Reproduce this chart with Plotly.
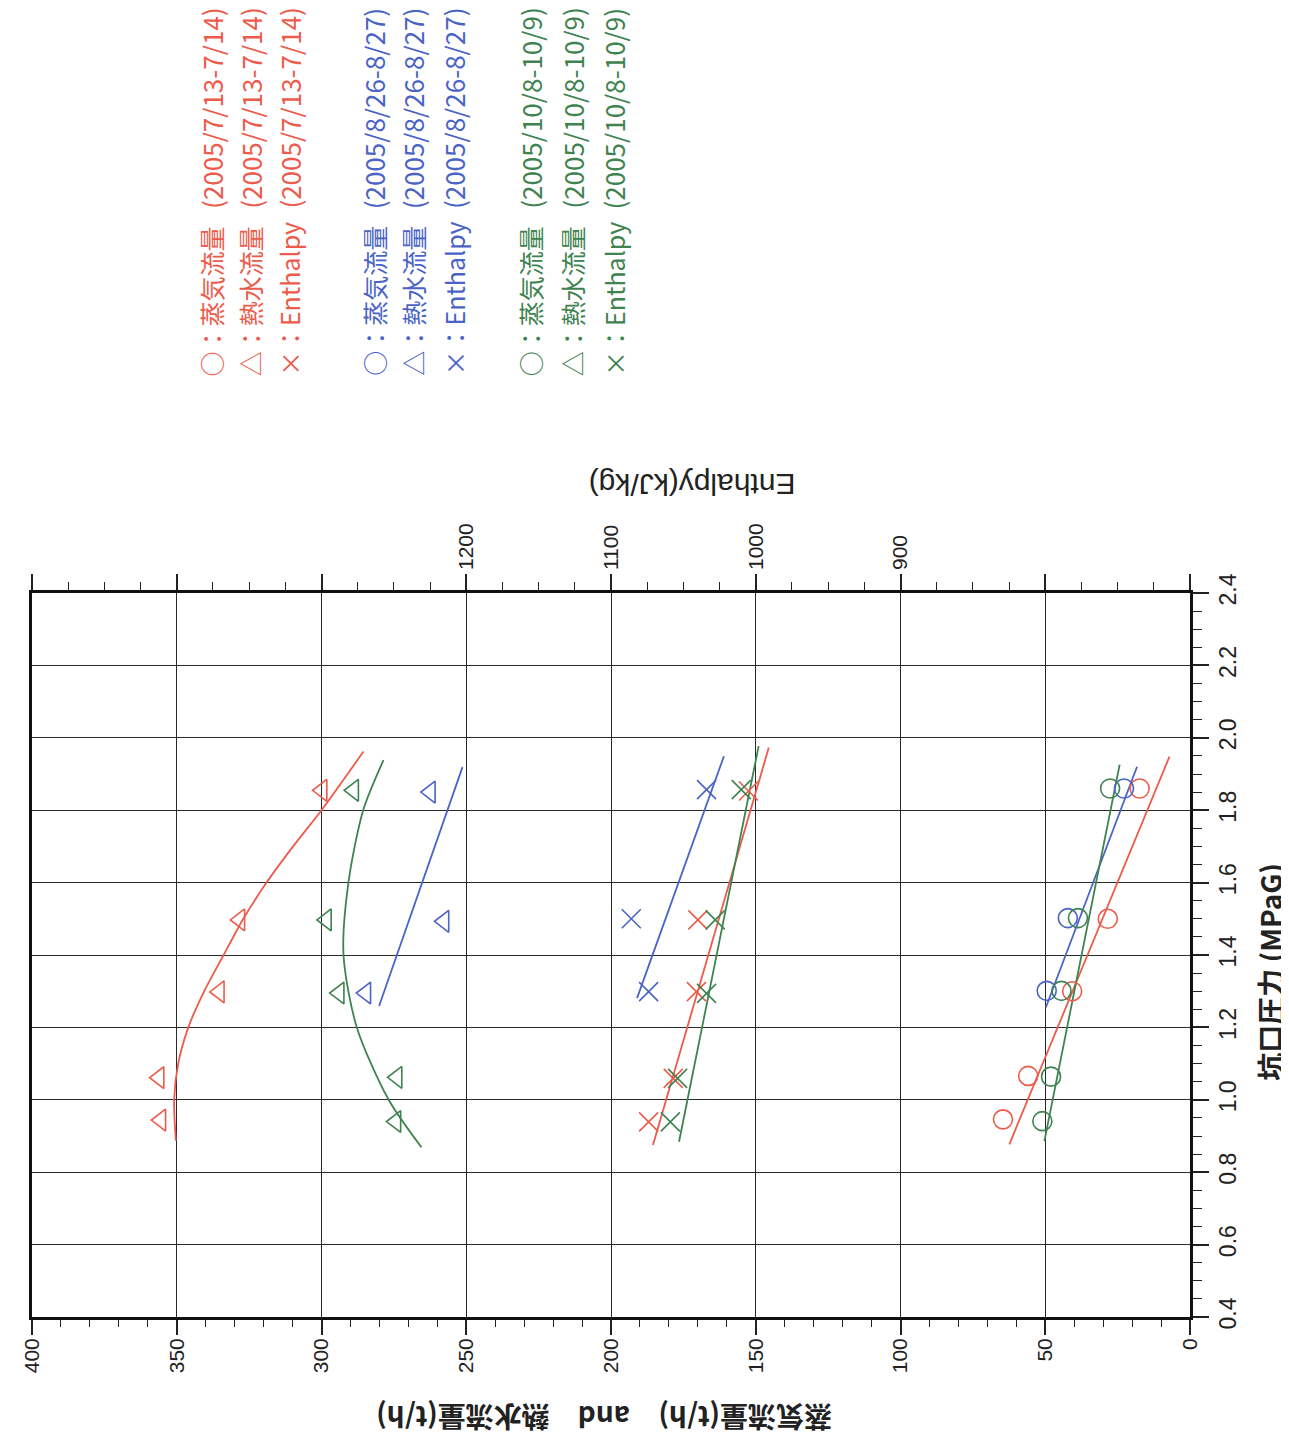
import plotly.graph_objects as go

# ---------------- data ----------------
# pressure (MPaG) of each measured point, and steam flow (t/h)
red_steam_P = [1.86, 1.50, 1.30, 1.066, 0.946]
red_steam_F = [17.4, 28.4, 40.7, 55.9, 64.6]
blue_steam_P = [1.86, 1.502, 1.301]
blue_steam_F = [22.8, 42.2, 49.5]
green_steam_P = [1.86, 1.502, 1.301, 1.064, 0.941]
green_steam_F = [27.6, 38.7, 44.4, 48.0, 51.0]

# hot water flow (t/h)
red_water_P = [1.855, 1.497, 1.298, 1.061, 0.944]
red_water_F = [299.8, 328.2, 335.3, 356.1, 355.5]
blue_water_P = [1.85, 1.493, 1.295]
blue_water_F = [262.4, 257.7, 284.7]
green_water_P = [1.855, 1.497, 1.295, 1.062, 0.94]
green_water_F = [288.9, 298.3, 293.9, 273.9, 274.3]

# enthalpy (kJ/kg)
red_enth_P = [1.853, 1.497, 1.299, 1.059, 0.939]
red_enth_E = [1005, 1040, 1041, 1057, 1074]
blue_enth_P = [1.857, 1.50, 1.299]
blue_enth_E = [1034, 1086, 1074]
green_enth_P = [1.857, 1.497, 1.294, 1.059, 0.939]
green_enth_E = [1010, 1028, 1034, 1054, 1059]

# fitted lines / curves
red_steam_fit_P = [1.948, 0.877]
red_steam_fit_F = [7.1, 62.4]
blue_steam_fit_P = [1.920, 1.255]
blue_steam_fit_F = [18.3, 49.8]
green_steam_fit_P = [1.926, 0.886]
green_steam_fit_F = [24.3, 50.3]

red_water_fit_P = [1.962, 1.8, 1.7, 1.6, 1.5, 1.4, 1.3, 1.2, 1.1, 1.0, 0.887]
red_water_fit_F = [285.5, 300.0, 309.8, 319.0, 327.0, 333.8, 340.5, 346.0, 349.5, 350.9, 350.3]
green_water_fit_P = [1.938, 1.8, 1.6, 1.4, 1.2, 1.0, 0.869]
green_water_fit_F = [278.6, 285.6, 290.7, 292.4, 287.8, 276.8, 265.5]
blue_water_fit_P = [1.919, 1.259]
blue_water_fit_F = [251.3, 280.1]

red_enth_fit_P = [1.973, 0.875]
red_enth_fit_E = [991, 1071]
blue_enth_fit_P = [1.949, 1.281]
blue_enth_fit_E = [1022, 1082]
green_enth_fit_P = [1.977, 0.884]
green_enth_fit_E = [998, 1053]

# axes / tick labels
flow_ticks = [0, 50, 100, 150, 200, 250, 300, 350, 400]
enth_ticks = [700, 800, 900, 1000, 1100, 1200, 1300, 1400, 1500]
enth_ticktext = ["", "", "900", "1000", "1100", "1200", "", "", ""]

legend_groups = [
    ("(2005/7/13-7/14)", "#EC5B4B"),
    ("(2005/8/26-8/27)", "#4A64C6"),
    ("(2005/10/8-10/9)", "#3E8350"),
]
legend_items = ["○：蒸気流量", "△：熱水流量", "×：Enthalpy"]

x_title = "蒸気流量(t/h)　and　熱水流量(t/h)"
x2_title = "Enthalpy(kJ/kg)"
y_title = "坑口圧力 (MPaG)"

RED, BLUE, GREEN = [c for _, c in legend_groups]

# ---------------- figure ----------------
OFF = 8                      # default page (body) margin of the html page
W, H = 1289 - OFF, 1444 - OFF
# plot area, in page pixels
L, R, T, B = 28, 1190, 593, 1317
PW, PH = R - L, B - T


def px(xp, yp):
    """page pixel -> paper coordinates"""
    return (xp - L) / PW, (B - yp) / PH


fig = go.Figure()


def markers(x, y, sym, color, xaxis="x"):
    fig.add_trace(go.Scatter(
        x=x, y=y, mode="markers", xaxis=xaxis, yaxis="y",
        marker=dict(symbol=sym, size=19, color=color, line=dict(color=color, width=1.6)),
        showlegend=False, hoverinfo="skip"))


def line(x, y, color, xaxis="x", spline=False):
    fig.add_trace(go.Scatter(
        x=x, y=y, mode="lines", xaxis=xaxis, yaxis="y",
        line=dict(color=color, width=1.8, shape="spline" if spline else "linear",
                  smoothing=0.8),
        showlegend=False, hoverinfo="skip"))


# steam flow
line(red_steam_fit_F, red_steam_fit_P, RED)
line(blue_steam_fit_F, blue_steam_fit_P, BLUE)
line(green_steam_fit_F, green_steam_fit_P, GREEN)
markers(red_steam_F, red_steam_P, "circle-open", RED)
markers(blue_steam_F, blue_steam_P, "circle-open", BLUE)
markers(green_steam_F, green_steam_P, "circle-open", GREEN)

# hot water flow
line(red_water_fit_F, red_water_fit_P, RED, spline=True)
line(green_water_fit_F, green_water_fit_P, GREEN, spline=True)
line(blue_water_fit_F, blue_water_fit_P, BLUE)
markers(red_water_F, red_water_P, "triangle-left-open", RED)
markers(blue_water_F, blue_water_P, "triangle-left-open", BLUE)
markers(green_water_F, green_water_P, "triangle-left-open", GREEN)

# enthalpy
line(red_enth_fit_E, red_enth_fit_P, RED, xaxis="x2")
line(blue_enth_fit_E, blue_enth_fit_P, BLUE, xaxis="x2")
line(green_enth_fit_E, green_enth_fit_P, GREEN, xaxis="x2")
markers(red_enth_E, red_enth_P, "x-thin-open", RED, xaxis="x2")
markers(blue_enth_E, blue_enth_P, "x-thin-open", BLUE, xaxis="x2")
markers(green_enth_E, green_enth_P, "x-thin-open", GREEN, xaxis="x2")

NUMFONT = "Liberation Sans"
NARROW = "Liberation Sans Narrow, Liberation Sans"
JP = "Noto Sans CJK JP"

fig.update_layout(
    width=W, height=H, autosize=False,
    margin=dict(l=L - OFF, r=(W + OFF) - R, t=T - OFF, b=(H + OFF) - B),
    paper_bgcolor="white", plot_bgcolor="white",
    showlegend=False,
    xaxis=dict(
        range=[400, 0], tickvals=flow_ticks, ticks="outside", ticklen=15,
        tickwidth=1.5, tickcolor="#222", tickangle=-90, ticklabelstandoff=-5,
        tickfont=dict(family=NUMFONT, size=21, color="#222"),
        showgrid=True, gridcolor="#2a2a2a", gridwidth=1.3,
        showline=True, linecolor="#111", linewidth=2.6, mirror=True,
        zeroline=False,
        minor=dict(dtick=10, ticks="outside", ticklen=7, tickcolor="#222",
                   tickwidth=1.2, showgrid=False),
    ),
    xaxis2=dict(
        overlaying="x", side="top", range=[1500, 700],
        tickvals=enth_ticks, ticktext=enth_ticktext,
        ticks="outside", ticklen=16, tickwidth=1.5, tickcolor="#222",
        tickangle=-90, tickfont=dict(family=NUMFONT, size=21, color="#222"),
        showgrid=False, showline=True, linecolor="#111", linewidth=2.6,
        zeroline=False,
        minor=dict(dtick=25, ticks="outside", ticklen=8, tickcolor="#222",
                   tickwidth=1.2, showgrid=False),
    ),
    yaxis=dict(
        side="right", range=[0.4, 2.4], dtick=0.2, tick0=0.4, tickformat=".1f",
        ticks="outside", ticklen=16, tickwidth=1.5, tickcolor="#222",
        tickangle=-90, tickfont=dict(family=NARROW, size=23, color="#222"),
        showgrid=True, gridcolor="#2a2a2a", gridwidth=1.3,
        showline=True, linecolor="#111", linewidth=2.6, mirror=True,
        zeroline=False,
        minor=dict(dtick=0.05, ticks="outside", ticklen=9, tickcolor="#222",
                   tickwidth=1.2, showgrid=False),
    ),
)

ann = []
# axis titles
xx, yy = px(602, 1418)
ann.append(dict(text=x_title, x=xx, y=yy, xref="paper", yref="paper", showarrow=False,
                xanchor="center", yanchor="middle", textangle=180,
                font=dict(family=JP, size=28, color="#222", weight="bold")))
xx, yy = px(690, 485)
ann.append(dict(text=x2_title, x=xx, y=yy, xref="paper", yref="paper", showarrow=False,
                xanchor="center", yanchor="middle", textangle=180,
                font=dict(family=NUMFONT, size=30, color="#222")))
xx, yy = px(1270, 972)
ann.append(dict(text=y_title, x=xx, y=yy, xref="paper", yref="paper", showarrow=False,
                xanchor="center", yanchor="middle", textangle=-90,
                font=dict(family=JP, size=28, color="#222", weight="bold")))

# legend (rotated text columns)
col_x = [[208, 247, 286], [371, 410, 451], [528, 570, 612]]
for gi, (dates, color) in enumerate(legend_groups):
    for ri, item in enumerate(legend_items):
        cx = col_x[gi][ri]
        xx, yy = px(cx, 378)
        ann.append(dict(text=item, x=xx, y=yy, xref="paper", yref="paper",
                        xanchor="center", yanchor="bottom", showarrow=False,
                        textangle=-90, font=dict(family=JP, size=25, color=color)))
        xx, yy = px(cx, 211)
        ann.append(dict(text=dates, x=xx, y=yy, xref="paper", yref="paper",
                        xanchor="center", yanchor="bottom", showarrow=False,
                        textangle=-90, font=dict(family=JP, size=26, color=color)))

fig.update_layout(annotations=ann)
fig.write_html("out.html")
